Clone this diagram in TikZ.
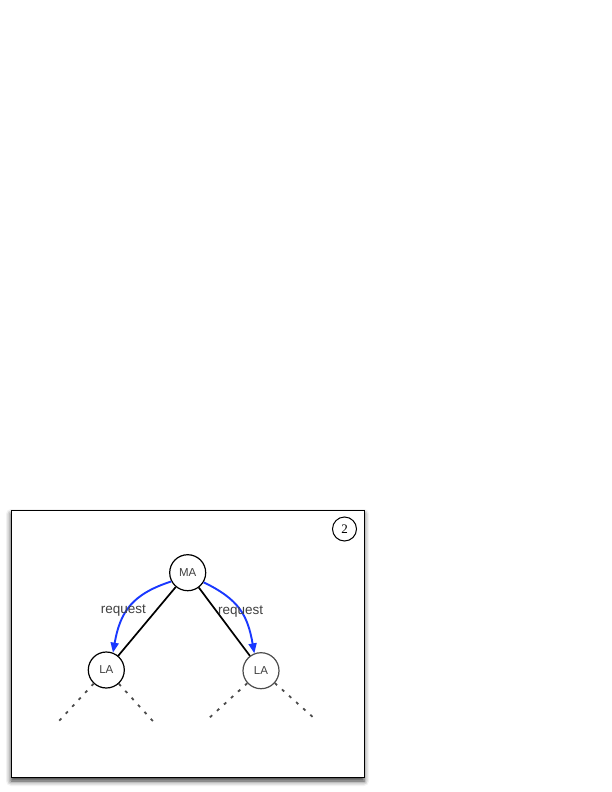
\documentclass[tikz,border=0pt]{standalone}
\usepackage{fontspec}
\setmainfont{Liberation Sans}
\newfontfamily\numfont{Liberation Serif}
\usepackage{tikz}
\usetikzlibrary{arrows.meta,shadows.blur}
\definecolor{reqblue}{rgb}{0.1,0.22,1}
\definecolor{textgray}{rgb}{0.25,0.25,0.25}
\definecolor{dotgray}{rgb}{0.3,0.3,0.3}
\tikzset{
  agent/.style={circle, draw, line width=1.2pt, minimum size=36pt, inner sep=0pt, text=textgray, font=\fontsize{11.5}{13}\selectfont},
  link/.style={line width=1.7pt},
  request/.style={reqblue, line width=1.9pt, -{Triangle[length=10pt,width=8pt]}},
  reqlabel/.style={text=textgray, font=\fontsize{13.5}{15}\selectfont, inner sep=0pt},
  subtree/.style={dotgray, line width=1.8pt, dash pattern=on 3pt off 6.5pt},
}

\begin{document}
\begin{tikzpicture}[x=1pt, y=-1pt]
	\useasboundingbox (0,0) rectangle (612,792);
	
	% frame with its shadow
	\draw [line width=1pt, fill=white, blur shadow={shadow xshift=0pt, shadow yshift=-4pt, shadow blur radius=5pt, shadow opacity=80}]
	(11,510) rectangle (364,777);
	\node [circle, draw, line width=1pt, minimum size=24pt, inner sep=0pt, font=\numfont\fontsize{13}{15}\selectfont] (step2) at (344.5,529) {2};
	
	% agents
	\node [agent] (MA) at (187.7,572.7) {MA};
	\node [agent] (LAl) at (106.3,670) {LA};
	\node [agent, draw=dotgray] (LAr) at (261,670.7) {LA};
	
	\draw [link] (MA) -- (LAl);
	\draw [link] (MA) -- (LAr);
	
	% requests going down
	\draw [request] (MA.208) to[out=198, in=80, looseness=1.15] (LAl.69);
	\draw [request] (MA.-31) to[out=-26, in=100, looseness=1.15] (LAr.111);
	\node [reqlabel] (reqL) at (123.3,610.7) {request};
	\node [reqlabel] (reqR) at (240.7,611.7) {request};
	
	% rest of the tree
	\coordinate (l1) at (58.3,721.7);
	\coordinate (l2) at (154,722.3);
	\coordinate (r1) at (207.7,719.3);
	\coordinate (r2) at (315,719);
	\draw [subtree] (LAl) -- (l1);
	\draw [subtree] (LAl) -- (l2);
	\draw [subtree] (LAr) -- (r1);
	\draw [subtree] (LAr) -- (r2);
\end{tikzpicture}
\end{document}
